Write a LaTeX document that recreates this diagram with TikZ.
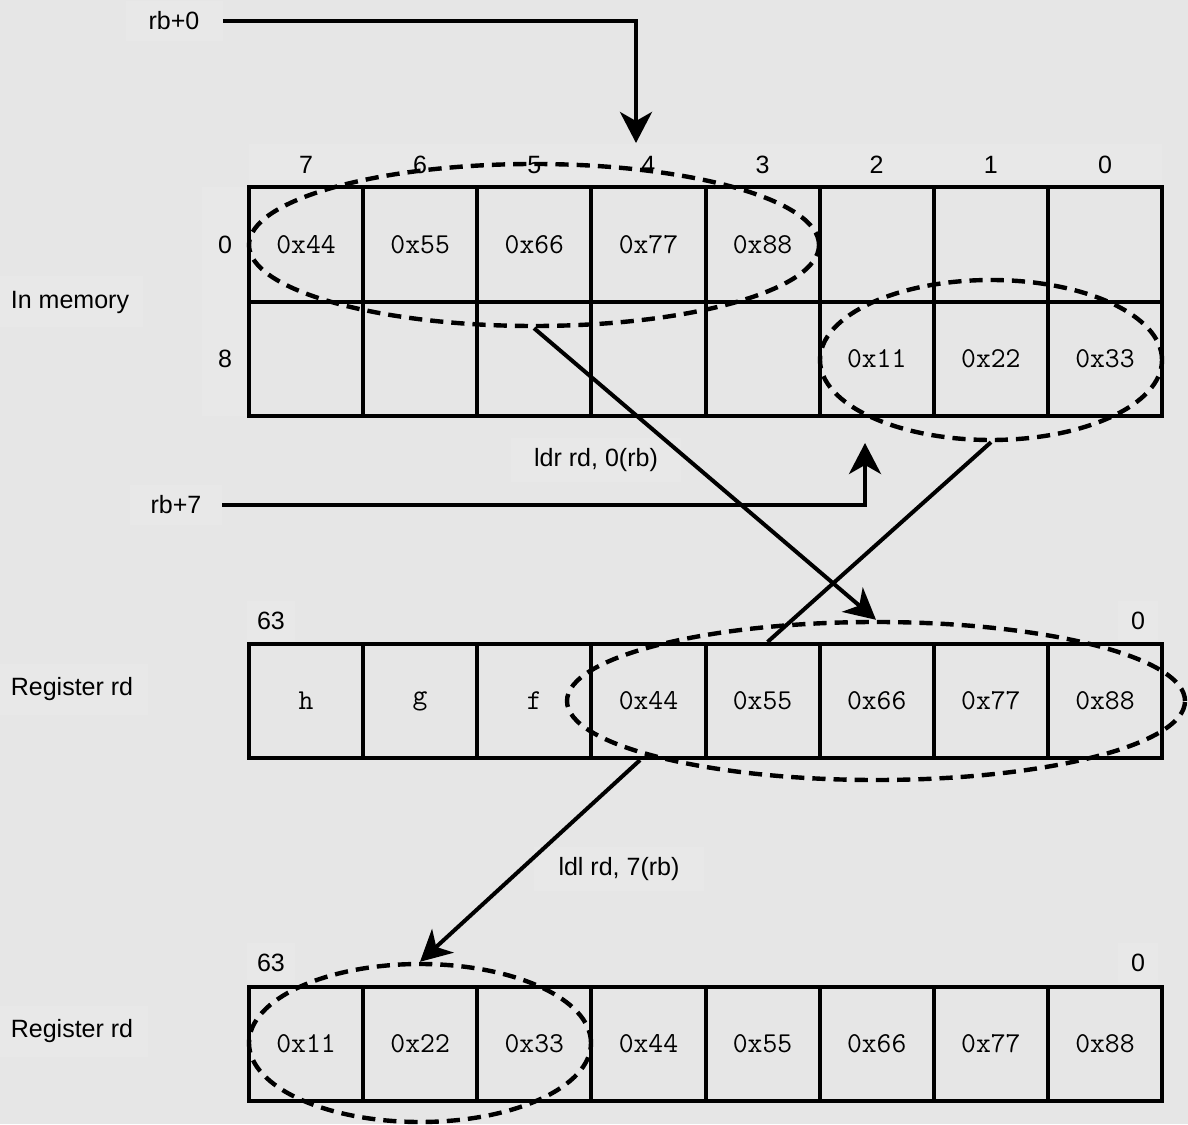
\documentclass[tikz,border=0pt]{standalone}
\usepackage{fontspec}
\setmainfont{Liberation Sans}
\usetikzlibrary{arrows.meta,shapes.geometric}
\definecolor{pagebg}{gray}{0.902}
\definecolor{tagbg}{gray}{0.91}
\tikzset{
  cellbox/.style={draw=black, line width=0.1cm, minimum width=2.853cm, minimum height=2.853cm, inner sep=0pt, font=\ttfamily\fontsize{20.5}{24}\selectfont},
  bytegroup/.style={ellipse, draw=black, line width=0.11cm, dash pattern=on 0.33cm off 0.2cm, inner sep=0pt},
  pointer/.style={line width=0.1cm, line join=miter, -{Stealth[length=0.775cm, width=0.8cm, inset=0.225cm]}},
  wire/.style={line width=0.1cm},
  tagtext/.style={fill=tagbg, inner sep=0pt, font=\fontsize{17.8}{21}\selectfont},
}

\begin{document}
\begin{tikzpicture}
\useasboundingbox (0,0) rectangle (29.7,28.1);
\fill[pagebg] (0,0) rectangle (29.7,28.1);
% side texts
\node[tagtext, minimum width=2.425cm, minimum height=1.0cm] (rbzero) at (4.35,27.575) {rb+0};
\node[tagtext, minimum width=2.3cm, minimum height=1.0cm] (rbseven) at (4.4,15.475) {rb+7};
\node[tagtext, minimum width=3.65cm, minimum height=1.275cm] (memtag) at (1.75,20.55) {In memory};
\node[tagtext, minimum width=3.8cm, minimum height=1.275cm] (regtagA) at (1.8,10.875) {Register rd};
\node[tagtext, minimum width=3.8cm, minimum height=1.275cm] (regtagB) at (1.8,2.325) {Register rd};
\node[tagtext, minimum width=4.25cm, minimum height=1.1cm] (ldrtag) at (14.9,16.6) {ldr rd, 0(rb)};
\node[tagtext, minimum width=4.25cm, minimum height=1.1cm] (ldltag) at (15.475,6.375) {ldl rd, 7(rb)};
% byte numbers
\node[tagtext, minimum width=2.853cm, minimum height=1.05cm] (col7) at (7.652,23.975) {7};
\node[tagtext, minimum width=2.853cm, minimum height=1.05cm] (col6) at (10.504,23.975) {6};
\node[tagtext, minimum width=2.853cm, minimum height=1.05cm] (col5) at (13.358,23.975) {5};
\node[tagtext, minimum width=2.853cm, minimum height=1.05cm] (col4) at (16.211,23.975) {4};
\node[tagtext, minimum width=2.853cm, minimum height=1.05cm] (col3) at (19.064,23.975) {3};
\node[tagtext, minimum width=2.853cm, minimum height=1.05cm] (col2) at (21.917,23.975) {2};
\node[tagtext, minimum width=2.853cm, minimum height=1.05cm] (col1) at (24.771,23.975) {1};
\node[tagtext, minimum width=2.853cm, minimum height=1.05cm] (col0) at (27.624,23.975) {0};
\node[tagtext, minimum width=1.15cm, minimum height=2.853cm] (rowzero) at (5.625,21.988) {0};
\node[tagtext, minimum width=1.15cm, minimum height=2.853cm] (roweight) at (5.625,19.135) {8};
\node[tagtext, minimum width=1.2cm, minimum height=1.0cm] (bitsA63) at (6.775,12.575) {63};
\node[tagtext, minimum width=1.0cm, minimum height=1.0cm] (bitsA0) at (28.45,12.575) {0};
\node[tagtext, minimum width=1.2cm, minimum height=1.0cm] (bitsB63) at (6.775,4.025) {63};
\node[tagtext, minimum width=1.0cm, minimum height=1.0cm] (bitsB0) at (28.45,4.025) {0};
% memory, address 0
\node[cellbox] (memA7) at (7.652,21.988) {0x44};
\node[cellbox] (memA6) at (10.504,21.988) {0x55};
\node[cellbox] (memA5) at (13.358,21.988) {0x66};
\node[cellbox] (memA4) at (16.211,21.988) {0x77};
\node[cellbox] (memA3) at (19.064,21.988) {0x88};
\node[cellbox] (memA2) at (21.917,21.988) {};
\node[cellbox] (memA1) at (24.771,21.988) {};
\node[cellbox] (memA0) at (27.624,21.988) {};
% memory, address 8
\node[cellbox] (memB7) at (7.652,19.135) {};
\node[cellbox] (memB6) at (10.504,19.135) {};
\node[cellbox] (memB5) at (13.358,19.135) {};
\node[cellbox] (memB4) at (16.211,19.135) {};
\node[cellbox] (memB3) at (19.064,19.135) {};
\node[cellbox] (memB2) at (21.917,19.135) {0x11};
\node[cellbox] (memB1) at (24.771,19.135) {0x22};
\node[cellbox] (memB0) at (27.624,19.135) {0x33};
% register after ldr
\node[cellbox] (regA7) at (7.652,10.575) {h};
\node[cellbox] (regA6) at (10.504,10.575) {g};
\node[cellbox] (regA5) at (13.358,10.575) {f};
\node[cellbox] (regA4) at (16.211,10.575) {0x44};
\node[cellbox] (regA3) at (19.064,10.575) {0x55};
\node[cellbox] (regA2) at (21.917,10.575) {0x66};
\node[cellbox] (regA1) at (24.771,10.575) {0x77};
\node[cellbox] (regA0) at (27.624,10.575) {0x88};
% register after ldl
\node[cellbox] (regB7) at (7.652,2.0) {0x11};
\node[cellbox] (regB6) at (10.504,2.0) {0x22};
\node[cellbox] (regB5) at (13.358,2.0) {0x33};
\node[cellbox] (regB4) at (16.211,2.0) {0x44};
\node[cellbox] (regB3) at (19.064,2.0) {0x55};
\node[cellbox] (regB2) at (21.917,2.0) {0x66};
\node[cellbox] (regB1) at (24.771,2.0) {0x77};
\node[cellbox] (regB0) at (27.624,2.0) {0x88};
% byte groups
\node[bytegroup, minimum width=14.25cm, minimum height=4.05cm] (grpA) at (13.35,21.975) {};
\node[bytegroup, minimum width=8.55cm, minimum height=4.0cm] (grpB) at (24.775,19.1) {};
\node[bytegroup, minimum width=15.45cm, minimum height=3.95cm] (grpC) at (21.9,10.575) {};
\node[bytegroup, minimum width=8.55cm, minimum height=3.95cm] (grpD) at (10.5,2.025) {};
% pointers and moves
\coordinate (zerotip) at (15.9,24.525);
\coordinate (seventip) at (21.625,17.025);
\draw[pointer] (rbzero.east) -| (zerotip);
\draw[pointer] (rbseven.east) -| (seventip);
\draw[pointer] (grpA.south) -- (grpC.north);
\draw[wire] (grpB.south) -- ([xshift=0.125cm]regA3.north);
\draw[pointer] ([xshift=-0.21cm]regA4.south) -- (grpD.north);
\end{tikzpicture}
\end{document}
